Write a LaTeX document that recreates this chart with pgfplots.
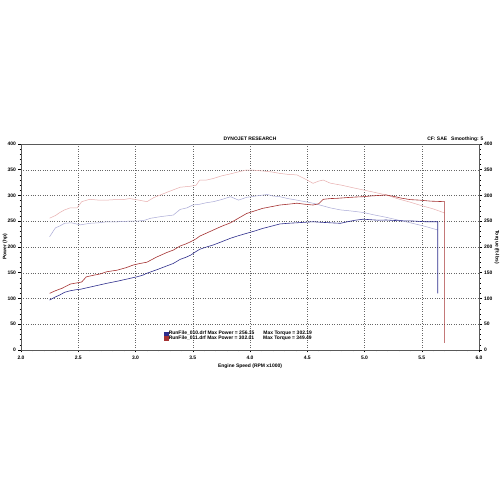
\documentclass[border=0pt]{standalone}
\usepackage{fontspec}
\setmainfont{Liberation Sans}
\usepackage{pgfplots}
\pgfplotsset{compat=1.18}
\definecolor{pblue}{RGB}{45,45,140}
\definecolor{pred}{RGB}{165,50,50}
\definecolor{tblue}{RGB}{170,170,215}
\definecolor{tred}{RGB}{232,175,175}
\newcommand{\sm}{\fontsize{5}{6}\selectfont\bfseries}
\begin{document}
\begin{tikzpicture}[x=1bp,y=1bp]
\path[use as bounding box, fill=white] (0,0) rectangle (500,500);
\begin{axis}[
  at={(21bp,150bp)}, anchor=south west,
  width=458bp, height=206bp, scale only axis,
  xmin=2, xmax=6, ymin=0, ymax=400,
  xtick={2,2.5,...,6}, ytick={0,50,...,400},
  minor x tick num=4, minor y tick num=4,
  xtick pos=bottom, ytick pos=left,
  tick align=outside,
  major tick length=2.5bp, minor tick length=1.5bp,
  tick style={black, line width=0.5pt},
  grid=major,
  major grid style={dotted, black!60, line width=0.35pt},
  axis line style={gray!70!black, line width=0.8pt},
  tick label style={font=\sm},
  /pgf/number format/assume math mode=true,
  xticklabel style={/pgf/number format/.cd, fixed, fixed zerofill, precision=1},
  yticklabel style={xshift=1bp},
  xlabel={Engine Speed (RPM x1000)},
  xlabel style={font=\sm, at={(axis description cs:0.5,-0.05)}, anchor=north},
  ylabel={Power (hp)},
  ylabel style={font=\sm, at={(axis description cs:-0.035,0.5)}, anchor=center},
  legend image code/.code={\fill[#1] (0bp,-1.8bp) rectangle (3.5bp,1.8bp);},
  legend style={at={(0.312,0.095)}, anchor=north west, draw=none, fill=none,
    font=\sm, row sep=-2bp, inner sep=0pt, nodes={inner sep=0.6bp}},
  legend cell align=left,
]
% Torque 011 (light red)
\addplot[tred, line width=0.5pt, forget plot] coordinates {
(2.25,256) (2.30,261) (2.34,267) (2.38,272) (2.43,276) (2.49,276) (2.53,288)
(2.60,292.6) (2.68,291) (2.75,291) (2.82,292) (2.89,292) (2.95,294) (3.03,291)
(3.10,288) (3.16,296) (3.25,304) (3.33,311) (3.39,316) (3.48,318) (3.53,320)
(3.56,330) (3.62,330) (3.68,333) (3.75,338) (3.83,342) (3.90,346) (3.97,349.5)
(4.04,349) (4.11,347.6) (4.18,346) (4.26,343) (4.33,341) (4.41,340) (4.50,330)
(4.55,323.6) (4.60,328) (4.64,330) (4.70,324) (4.80,320) (4.90,315) (4.99,310.7)
(5.09,306) (5.19,301) (5.30,293) (5.40,287) (5.48,281.5) (5.60,274) (5.70,266)};
% Torque 010 (light blue)
\addplot[tblue, line width=0.5pt, forget plot] coordinates {
(2.25,220) (2.30,237) (2.34,241) (2.38,246) (2.44,247) (2.48,245) (2.52,243)
(2.60,246) (2.68,247) (2.75,249) (2.85,249) (2.93,250) (3.01,250) (3.08,252)
(3.13,255.7) (3.22,259) (3.33,262) (3.39,273) (3.45,276) (3.50,281.5) (3.56,283)
(3.62,286) (3.68,288) (3.75,292) (3.83,297.7) (3.90,291) (3.97,296.4) (4.05,299)
(4.15,302) (4.20,299) (4.26,297.7) (4.33,294) (4.41,291) (4.48,288) (4.55,285)
(4.61,281.5) (4.70,276) (4.79,272) (4.88,270) (4.99,267) (5.09,262) (5.19,257.6)
(5.30,252) (5.42,246) (5.53,240) (5.64,233)};
% Power 010 (dark blue)
\addplot[pblue, line width=0.6pt] coordinates {
(2.25,97) (2.30,103) (2.34,107) (2.38,112) (2.43,115) (2.48,117) (2.52,118)
(2.60,122) (2.68,126) (2.75,129.5) (2.85,134) (2.93,138) (3.01,142) (3.06,145)
(3.10,149) (3.20,157) (3.27,163) (3.33,168) (3.39,176) (3.44,180) (3.48,184)
(3.52,190) (3.56,195.5) (3.62,200) (3.68,204) (3.75,210) (3.83,217) (3.90,222)
(3.97,226.5) (4.04,231) (4.11,236) (4.18,240) (4.26,244.7) (4.33,246) (4.41,247)
(4.48,248) (4.55,249) (4.62,248) (4.70,247) (4.79,246) (4.85,249) (4.92,252)
(4.99,254) (5.05,253) (5.12,252) (5.19,252.4) (5.30,251) (5.42,250.5) (5.53,249)
(5.64,249) (5.64,110)};
\addlegendentry{RunFile\_010.drf Max Power = 256.15\hspace{9bp}Max Torque = 302.19}
% Power 011 (dark red)
\addplot[pred, line width=0.6pt] coordinates {
(2.25,110) (2.30,115) (2.36,120) (2.43,128) (2.48,130) (2.53,132) (2.57,142)
(2.63,145) (2.69,147.6) (2.75,152) (2.84,155) (2.92,160) (2.98,165) (3.04,168)
(3.10,170.5) (3.18,180) (3.27,189) (3.33,194) (3.39,202) (3.44,206) (3.48,210)
(3.53,216) (3.56,221) (3.62,227) (3.68,233) (3.75,240) (3.83,247) (3.90,256)
(3.97,265) (4.04,270) (4.11,275) (4.18,278) (4.26,281.5) (4.33,283) (4.41,285)
(4.48,283) (4.55,281.5) (4.60,284) (4.64,292.6) (4.70,294) (4.76,294.5) (4.85,296)
(4.92,297) (4.99,297.7) (5.05,299) (5.12,300) (5.19,301) (5.26,298) (5.33,294.5)
(5.40,292) (5.48,291) (5.58,289) (5.70,288) (5.70,14)};
\addlegendentry{RunFile\_011.drf Max Power = 302.01\hspace{9bp}Max Torque = 349.49}
\end{axis}
\begin{axis}[
  at={(21bp,150bp)}, anchor=south west,
  width=458bp, height=206bp, scale only axis,
  xmin=2, xmax=6, ymin=0, ymax=400,
  hide x axis, axis y line*=right,
  ytick={0,50,...,400}, minor y tick num=4,
  tick align=outside,
  major tick length=2.5bp, minor tick length=1.5bp,
  tick style={black, line width=0.5pt},
  axis line style={gray!70!black, line width=0.8pt},
  tick label style={font=\sm},
  /pgf/number format/assume math mode=true,
  yticklabel style={xshift=-1bp},
  ylabel={Torque (ft-lbs)},
  ylabel style={font=\sm, at={(axis description cs:1.039,0.5)}, anchor=center, rotate=180},
]
\end{axis}
\node[font=\sm] at (250,361) {DYNOJET RESEARCH};
\node[font=\sm, anchor=east] at (487,361) {CF: SAE\hspace{4bp}Smoothing: 5};
\end{tikzpicture}
\end{document}
